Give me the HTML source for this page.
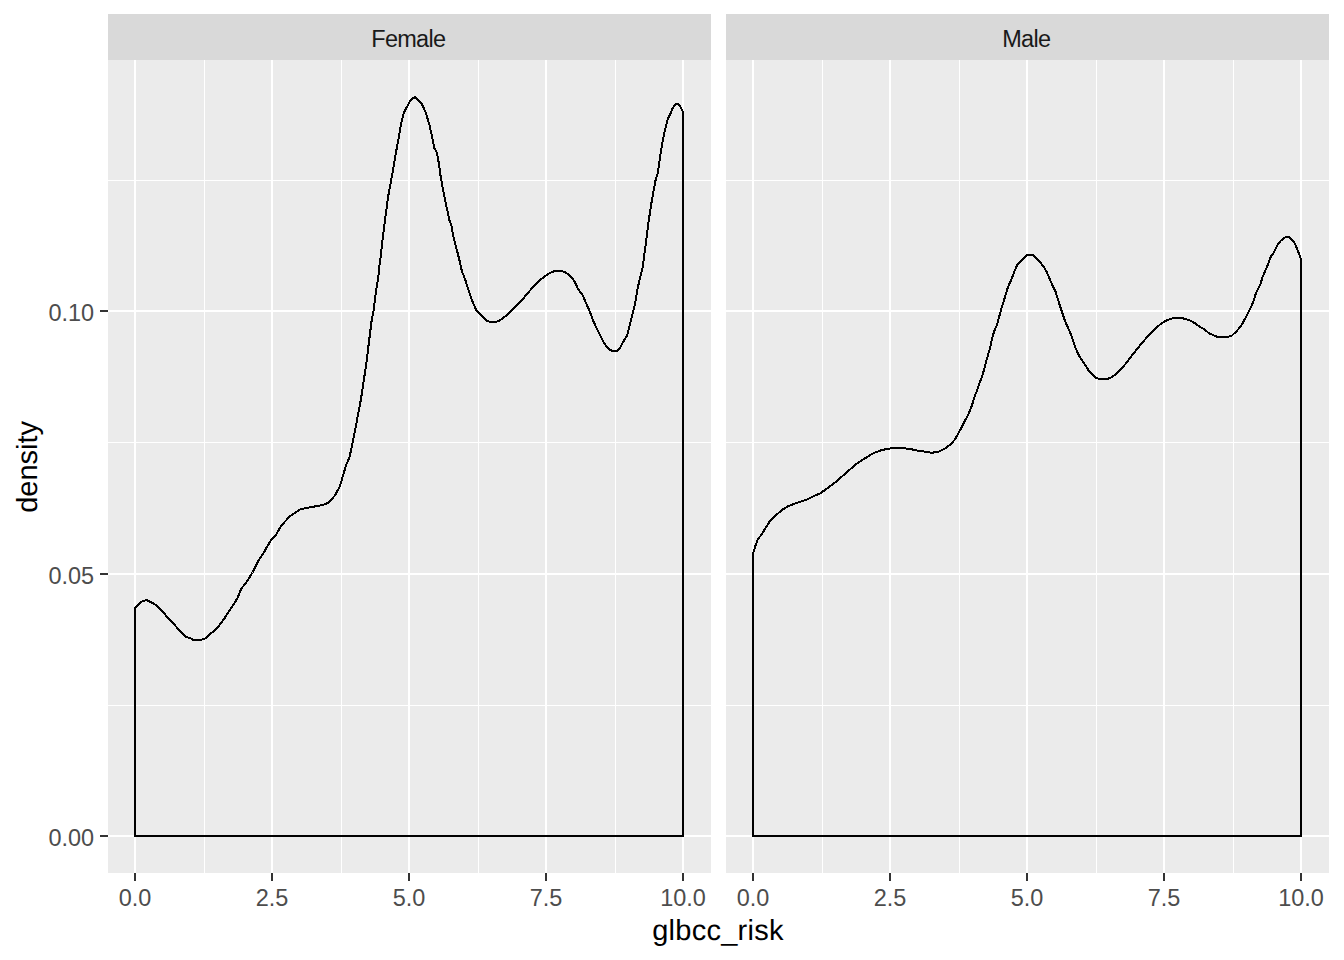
<!DOCTYPE html>
<html><head><meta charset="utf-8"><title>density</title>
<style>
html,body{margin:0;padding:0;background:#fff;}
body{width:1344px;height:960px;overflow:hidden;}
svg{display:block;}
text{font-family:"Liberation Sans",Arial,sans-serif;}
</style></head><body>
<svg width="1344" height="960" viewBox="0 0 1344 960">
<rect x="0" y="0" width="1344" height="960" fill="#ffffff"/>

<rect x="108" y="14" width="603" height="46" fill="#D9D9D9"/>
<rect x="108" y="60" width="603" height="813" fill="#EBEBEB"/>
<g fill="#FFFFFF" shape-rendering="crispEdges">
<rect x="108" y="705" width="603" height="1"/>
<rect x="108" y="442" width="603" height="1"/>
<rect x="108" y="180" width="603" height="1"/>
<rect x="204" y="60" width="1" height="813"/>
<rect x="341" y="60" width="1" height="813"/>
<rect x="478" y="60" width="1" height="813"/>
<rect x="615" y="60" width="1" height="813"/>
<rect x="108" y="835" width="603" height="2"/>
<rect x="108" y="573" width="603" height="2"/>
<rect x="108" y="310" width="603" height="2"/>
<rect x="134" y="60" width="2" height="813"/>
<rect x="271" y="60" width="2" height="813"/>
<rect x="408" y="60" width="2" height="813"/>
<rect x="545" y="60" width="2" height="813"/>
<rect x="682" y="60" width="2" height="813"/>
</g>
<rect x="726" y="14" width="603" height="46" fill="#D9D9D9"/>
<rect x="726" y="60" width="603" height="813" fill="#EBEBEB"/>
<g fill="#FFFFFF" shape-rendering="crispEdges">
<rect x="726" y="705" width="603" height="1"/>
<rect x="726" y="442" width="603" height="1"/>
<rect x="726" y="180" width="603" height="1"/>
<rect x="822" y="60" width="1" height="813"/>
<rect x="959" y="60" width="1" height="813"/>
<rect x="1096" y="60" width="1" height="813"/>
<rect x="1233" y="60" width="1" height="813"/>
<rect x="726" y="835" width="603" height="2"/>
<rect x="726" y="573" width="603" height="2"/>
<rect x="726" y="310" width="603" height="2"/>
<rect x="752" y="60" width="2" height="813"/>
<rect x="889" y="60" width="2" height="813"/>
<rect x="1026" y="60" width="2" height="813"/>
<rect x="1163" y="60" width="2" height="813"/>
<rect x="1300" y="60" width="2" height="813"/>
</g>
<path d="M135 836 L135 608.4 140.7 601.9 146.5 600.1 153.2 603.2 157.7 606.3 163.0 612.1 168.4 618.4 172.9 622.9 178.2 629.1 185.4 636.7 188.5 637.6 191.5 638.8 193.5 640.0 200.5 640.0 204.8 638.8 208.6 635.3 216.6 628.7 223.8 619.3 230.0 609.9 237.1 598.8 241.2 588.8 246.2 582.5 252.5 572.5 258.1 561.2 263.8 552.5 268.8 543.8 272.5 538.1 276.2 534.4 281.2 525.6 290.0 516.2 300.0 509.4 310.0 507.2 316.0 506.3 321.5 505.3 325.0 504.3 328.0 502.8 330.5 500.5 333.0 497.8 335.0 495.3 340.0 486.2 343.1 475.0 346.2 465.0 349.4 457.5 351.9 446.2 353.8 436.2 356.3 423.8 358.7 411.2 360.8 400.0 362.2 391.0 363.3 383.3 364.9 373.0 366.4 362.5 367.7 352.0 369.0 341.7 370.3 331.2 371.6 320.8 373.7 310.4 374.8 300.0 376.2 290.0 378.1 278.8 379.4 266.2 380.6 257.5 382.7 238.8 385.5 216.2 388.3 195.6 391.1 180.6 393.8 165.5 395.0 158.0 397.1 146.3 398.8 137.2 400.0 129.7 401.7 121.3 403.3 114.7 405.0 110.5 407.5 105.9 410.0 101.3 412.1 98.8 415.0 97.2 418.3 100.1 421.2 103.0 423.8 108.0 425.8 113.0 427.9 119.7 429.6 125.5 431.2 133.0 432.9 140.5 434.2 148.0 436.7 152.2 437.9 158.0 439.2 165.5 440.6 176.2 443.1 190.0 445.6 202.5 448.0 213.3 449.3 220.0 451.3 225.0 453.4 236.7 456.2 247.5 459.4 260.0 461.9 271.2 465.5 280.3 467.4 286.6 469.4 292.8 471.7 299.8 474.1 305.3 476.4 310.4 480.3 314.7 485.8 320.2 490.5 322.0 495.8 322.0 500.0 320.3 505.3 316.4 509.2 313.1 513.9 308.0 519.4 302.2 524.1 297.5 527.2 293.6 534.2 285.8 541.2 279.1 548.5 273.7 554.5 271.0 560.5 270.8 565.5 272.3 570.6 276.3 574.6 281.5 578.1 289.2 582.3 294.4 585.9 302.7 589.6 311.0 592.7 319.4 595.8 326.7 599.0 332.9 603.1 341.2 606.4 346.3 609.4 349.6 612.4 351.0 617.4 351.0 620.3 347.3 622.3 343.6 624.3 339.8 627.3 335.0 630.2 323.5 633.3 311.0 635.4 301.7 637.5 289.2 639.6 279.8 641.7 271.5 642.5 268.1 645.3 247.5 648.1 225.0 650.9 206.2 652.8 195.0 655.6 180.0 657.9 172.5 659.2 163.3 660.4 155.0 661.7 146.7 662.9 140.0 664.2 133.3 665.8 126.7 667.5 120.0 668.6 117.3 670.7 113.0 672.3 108.8 674.0 106.0 676.3 104.0 678.6 104.0 680.3 106.5 682.2 110.3 683 113.0 L683 836 Z" fill="none" stroke="#000" stroke-width="2" stroke-linejoin="round" shape-rendering="crispEdges"/>
<path d="M753 836 L753 553.3 755.4 546.0 758.0 538.8 761.7 534.6 765.3 528.3 770.0 521.0 775.2 515.8 782.5 509.6 788.8 505.9 797.1 502.8 806.5 499.7 812.7 496.6 820.0 493.4 828.3 487.7 835.6 482.0 844.0 474.7 850.4 469.1 855.7 464.6 861.1 460.6 866.4 457.5 871.8 453.9 877.1 451.7 882.5 449.9 887.9 448.8 894.1 447.9 903.0 448.1 910.2 449.0 916.4 450.4 923.6 451.5 929.6 452.5 933.6 452.5 938.8 451.6 945.0 448.6 950.4 444.6 954.8 439.6 958.4 433.4 961.0 428.4 964.6 421.5 968.9 413.2 971.8 405.7 973.9 399.0 975.0 395.2 976.8 391.5 979.1 384.0 981.8 377.3 984.0 369.7 986.0 362.2 988.0 355.1 990.1 347.6 992.0 339.2 994.0 331.7 995.3 328.3 997.0 325.0 999.0 317.5 1000.9 310.4 1003.0 303.3 1004.0 300.4 1005.1 296.2 1007.5 288.6 1009.2 284.1 1010.7 281.2 1013.2 274.5 1015.9 267.8 1017.6 264.0 1021.0 260.6 1024.0 257.7 1027.2 255.0 1032.5 255.0 1034.8 256.5 1039.0 261.1 1043.1 265.8 1046.2 271.0 1049.4 278.3 1052.5 285.6 1055.6 291.9 1058.8 302.3 1061.9 311.7 1065.0 321.0 1067.7 327.0 1070.4 333.2 1073.0 340.4 1075.7 348.4 1079.3 356.4 1083.8 362.7 1088.2 369.8 1092.0 374.3 1095.0 377.2 1098.2 378.6 1100.0 379.0 1107.0 379.0 1109.6 378.2 1112.0 376.8 1116.0 374.0 1120.4 369.8 1126.6 362.7 1132.0 355.5 1138.2 347.5 1143.6 341.2 1148.9 335.0 1155.2 328.8 1161.4 323.4 1167.7 319.8 1173.9 318.0 1181.1 318.0 1185.4 318.9 1190.2 320.6 1194.9 323.3 1199.6 326.7 1204.4 329.4 1209.1 333.3 1213.5 335.2 1217.3 336.9 1227.8 337.0 1232.1 335.4 1236.3 331.4 1240.8 326.4 1244.3 320.0 1247.7 313.9 1250.4 308.4 1253.1 302.3 1255.8 293.6 1258.0 289.2 1260.2 284.8 1262.4 277.5 1264.6 272.4 1266.8 267.3 1269.0 261.5 1271.2 255.6 1273.3 253.4 1275.5 249.1 1277.7 244.7 1280.6 241.0 1283.6 238.1 1287.2 236.7 1290.1 237.8 1293.8 241.8 1296.0 246.2 1298.1 251.3 1300.2 257.0 1301 259.0 L1301 836 Z" fill="none" stroke="#000" stroke-width="2" stroke-linejoin="round" shape-rendering="crispEdges"/>
<g fill="#333333" shape-rendering="crispEdges">
<rect x="100" y="835" width="8" height="2"/>
<rect x="100" y="573" width="8" height="2"/>
<rect x="100" y="310" width="8" height="2"/>
<rect x="134" y="873" width="2" height="8"/>
<rect x="271" y="873" width="2" height="8"/>
<rect x="408" y="873" width="2" height="8"/>
<rect x="545" y="873" width="2" height="8"/>
<rect x="682" y="873" width="2" height="8"/>
<rect x="752" y="873" width="2" height="8"/>
<rect x="889" y="873" width="2" height="8"/>
<rect x="1026" y="873" width="2" height="8"/>
<rect x="1163" y="873" width="2" height="8"/>
<rect x="1300" y="873" width="2" height="8"/>
</g>
<text x="408.65" y="47" font-size="23.47" fill="#1A1A1A" text-anchor="middle" textLength="74.8" lengthAdjust="spacing">Female</text>
<text x="1026.65" y="47" font-size="23.47" fill="#1A1A1A" text-anchor="middle" textLength="49.0" lengthAdjust="spacing">Male</text>
<text x="94.1" y="846" font-size="23.47" fill="#4D4D4D" text-anchor="end">0.00</text>
<text x="94.1" y="584" font-size="23.47" fill="#4D4D4D" text-anchor="end">0.05</text>
<text x="94.1" y="321" font-size="23.47" fill="#4D4D4D" text-anchor="end">0.10</text>
<text x="135" y="906" font-size="23.47" fill="#4D4D4D" text-anchor="middle">0.0</text>
<text x="272" y="906" font-size="23.47" fill="#4D4D4D" text-anchor="middle">2.5</text>
<text x="409" y="906" font-size="23.47" fill="#4D4D4D" text-anchor="middle">5.0</text>
<text x="546" y="906" font-size="23.47" fill="#4D4D4D" text-anchor="middle">7.5</text>
<text x="683" y="906" font-size="23.47" fill="#4D4D4D" text-anchor="middle">10.0</text>
<text x="753" y="906" font-size="23.47" fill="#4D4D4D" text-anchor="middle">0.0</text>
<text x="890" y="906" font-size="23.47" fill="#4D4D4D" text-anchor="middle">2.5</text>
<text x="1027" y="906" font-size="23.47" fill="#4D4D4D" text-anchor="middle">5.0</text>
<text x="1164" y="906" font-size="23.47" fill="#4D4D4D" text-anchor="middle">7.5</text>
<text x="1301" y="906" font-size="23.47" fill="#4D4D4D" text-anchor="middle">10.0</text>
<text x="717.8" y="940" font-size="29" fill="#000" text-anchor="middle" text-rendering="geometricPrecision" textLength="131.3" lengthAdjust="spacing">glbcc_risk</text>
<text transform="translate(36.6 466.85) rotate(-90)" x="0" y="0" font-size="29" fill="#000" text-anchor="middle" text-rendering="geometricPrecision">density</text>
</svg>
</body></html>
